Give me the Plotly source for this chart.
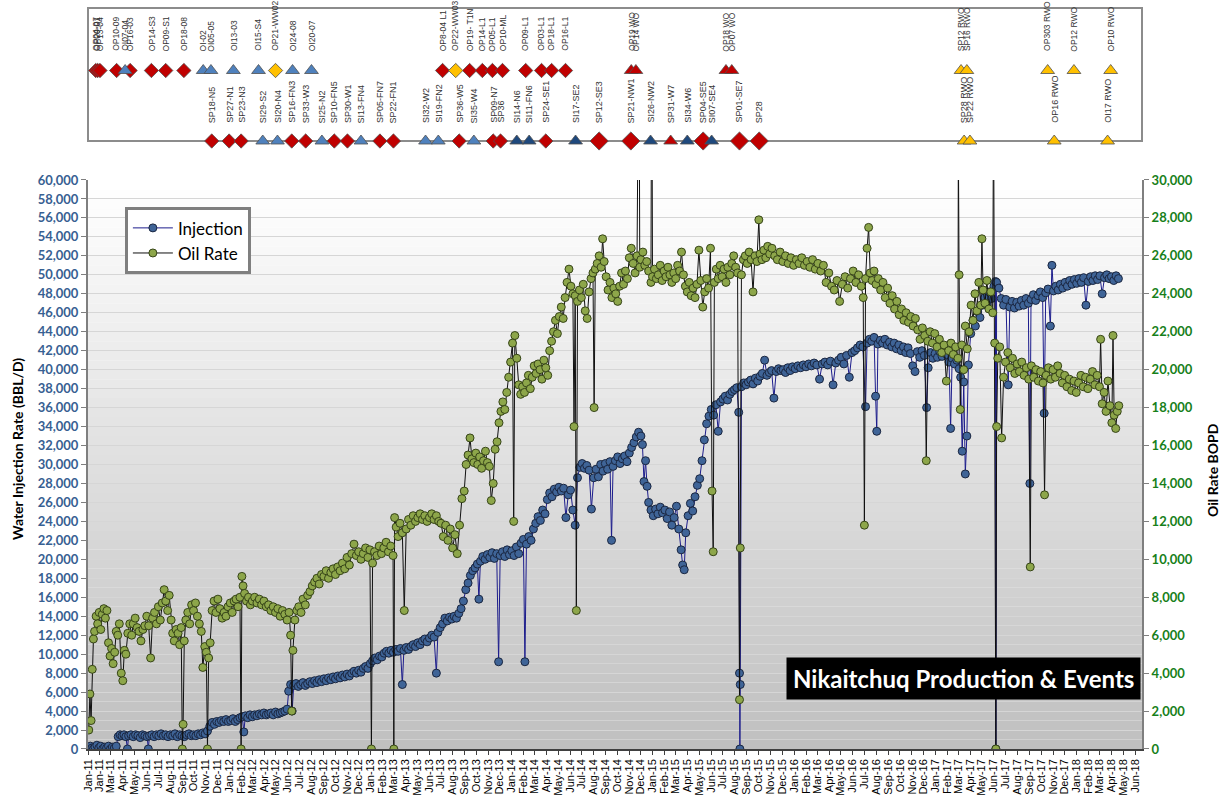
import pandas as pd
import plotly.graph_objects as go

# ---------------- data ----------------
INJ_DATES = [
"2011-01-03","2011-01-07","2011-01-11","2011-01-15","2011-01-19","2011-01-24","2011-01-29","2011-02-03","2011-02-08","2011-02-13",
"2011-02-18","2011-02-23","2011-02-28","2011-03-05","2011-03-10","2011-03-15","2011-03-20","2011-03-25","2011-03-30","2011-04-04",
"2011-04-09","2011-04-13","2011-04-16","2011-04-22","2011-04-28","2011-05-04","2011-05-10","2011-05-16","2011-05-22","2011-05-28",
"2011-06-03","2011-06-06","2011-06-09","2011-06-15","2011-06-21","2011-06-27","2011-07-03","2011-07-09","2011-07-15","2011-07-21",
"2011-07-27","2011-08-02","2011-08-08","2011-08-14","2011-08-20","2011-08-26","2011-09-01","2011-09-07","2011-09-13","2011-09-19",
"2011-09-25","2011-10-01","2011-10-07","2011-10-13","2011-10-19","2011-10-25","2011-10-31","2011-11-06","2011-11-12","2011-11-18",
"2011-11-24","2011-11-30","2011-12-06","2011-12-12","2011-12-18","2011-12-24","2011-12-30","2012-01-05","2012-01-11","2012-01-17",
"2012-01-23","2012-01-29","2012-02-04","2012-02-08","2012-02-12","2012-02-18","2012-02-24","2012-03-01","2012-03-07","2012-03-13",
"2012-03-19","2012-03-25","2012-03-31","2012-04-06","2012-04-12","2012-04-18","2012-04-24","2012-04-30","2012-05-06","2012-05-12",
"2012-05-18","2012-05-24","2012-05-30","2012-06-03","2012-06-08","2012-06-12","2012-06-16","2012-06-22","2012-06-28","2012-07-04",
"2012-07-10","2012-07-16","2012-07-22","2012-07-28","2012-08-03","2012-08-09","2012-08-15","2012-08-21","2012-08-27","2012-09-02",
"2012-09-08","2012-09-14","2012-09-20","2012-09-26","2012-10-02","2012-10-08","2012-10-14","2012-10-20","2012-10-26","2012-11-01",
"2012-11-07","2012-11-13","2012-11-19","2012-11-25","2012-12-01","2012-12-07","2012-12-13","2012-12-19","2012-12-25","2012-12-31",
"2013-01-06","2013-01-12","2013-01-18","2013-01-24","2013-01-30","2013-02-05","2013-02-11","2013-02-17","2013-02-23","2013-03-01",
"2013-03-07","2013-03-13","2013-03-19","2013-03-24","2013-03-28","2013-04-03","2013-04-09","2013-04-15","2013-04-21","2013-04-27",
"2013-05-03","2013-05-09","2013-05-15","2013-05-21","2013-05-27","2013-06-02","2013-06-08","2013-06-14","2013-06-20","2013-06-24",
"2013-06-30","2013-07-06","2013-07-12","2013-07-18","2013-07-24","2013-07-30","2013-08-05","2013-08-11","2013-08-17","2013-08-23",
"2013-08-29","2013-09-04","2013-09-10","2013-09-16","2013-09-22","2013-09-28","2013-10-04","2013-10-08","2013-10-12","2013-10-18",
"2013-10-24","2013-10-30","2013-11-05","2013-11-11","2013-11-17","2013-11-23","2013-11-28","2013-12-02","2013-12-08","2013-12-14",
"2013-12-20","2013-12-26","2014-01-01","2014-01-07","2014-01-13","2014-01-19","2014-01-25","2014-01-31","2014-02-04","2014-02-08",
"2014-02-14","2014-02-20","2014-02-26","2014-03-04","2014-03-10","2014-03-16","2014-03-22","2014-03-28","2014-04-03","2014-04-09",
"2014-04-15","2014-04-21","2014-04-27","2014-05-03","2014-05-09","2014-05-15","2014-05-21","2014-05-27","2014-06-02","2014-06-08",
"2014-06-14","2014-06-20","2014-06-26","2014-07-02","2014-07-08","2014-07-14","2014-07-20","2014-07-26","2014-08-01","2014-08-07",
"2014-08-13","2014-08-19","2014-08-25","2014-08-31","2014-09-06","2014-09-12","2014-09-16","2014-09-20","2014-09-26","2014-10-02",
"2014-10-08","2014-10-14","2014-10-20","2014-10-26","2014-11-01","2014-11-07","2014-11-13","2014-11-19","2014-11-25","2014-12-01",
"2014-12-05","2014-12-09","2014-12-13","2014-12-17","2014-12-21","2014-12-27","2015-01-02","2015-01-08","2015-01-14","2015-01-20",
"2015-01-26","2015-02-01","2015-02-07","2015-02-13","2015-02-19","2015-02-25","2015-03-03","2015-03-09","2015-03-15","2015-03-19",
"2015-03-23","2015-03-27","2015-04-02","2015-04-08","2015-04-14","2015-04-20","2015-04-26","2015-05-02","2015-05-08","2015-05-14",
"2015-05-20","2015-05-26","2015-06-01","2015-06-07","2015-06-13","2015-06-19","2015-06-25","2015-07-01","2015-07-07","2015-07-13",
"2015-07-19","2015-07-25","2015-07-31","2015-08-06","2015-08-11","2015-08-13","2015-08-14","2015-08-15","2015-08-18","2015-08-24",
"2015-08-30","2015-09-05","2015-09-11","2015-09-17","2015-09-23","2015-09-29","2015-10-05","2015-10-11","2015-10-17","2015-10-23",
"2015-10-29","2015-11-04","2015-11-10","2015-11-16","2015-11-22","2015-11-28","2015-12-04","2015-12-10","2015-12-16","2015-12-22",
"2015-12-28","2016-01-04","2016-01-11","2016-01-18","2016-01-25","2016-02-01","2016-02-08","2016-02-15","2016-02-22","2016-02-29",
"2016-03-07","2016-03-14","2016-03-21","2016-03-28","2016-04-04","2016-04-11","2016-04-18","2016-04-25","2016-05-02","2016-05-09",
"2016-05-16","2016-05-23","2016-05-30","2016-06-06","2016-06-13","2016-06-20","2016-06-27","2016-07-04","2016-07-08","2016-07-14",
"2016-07-20","2016-07-26","2016-07-30","2016-08-02","2016-08-05","2016-08-11","2016-08-17","2016-08-23","2016-08-29","2016-09-04",
"2016-09-10","2016-09-16","2016-09-22","2016-09-28","2016-10-04","2016-10-10","2016-10-16","2016-10-22","2016-10-28","2016-11-03",
"2016-11-09","2016-11-15","2016-11-21","2016-11-27","2016-12-03","2016-12-09","2016-12-13","2016-12-19","2016-12-25","2016-12-31",
"2017-01-06","2017-01-12","2017-01-18","2017-01-24","2017-01-30","2017-02-05","2017-02-09","2017-02-13","2017-02-19","2017-02-25",
"2017-03-03","2017-03-07","2017-03-11","2017-03-15","2017-03-19","2017-03-23","2017-03-27","2017-04-02","2017-04-08","2017-04-14",
"2017-04-20","2017-04-26","2017-05-02","2017-05-08","2017-05-14","2017-05-20","2017-05-26","2017-06-01","2017-06-05","2017-06-06",
"2017-06-08","2017-06-14","2017-06-20","2017-06-26","2017-07-02","2017-07-08","2017-07-12","2017-07-18","2017-07-24","2017-07-30",
"2017-08-05","2017-08-11","2017-08-17","2017-08-23","2017-08-29","2017-09-02","2017-09-05","2017-09-11","2017-09-17","2017-09-23",
"2017-09-29","2017-10-05","2017-10-09","2017-10-13","2017-10-19","2017-10-25","2017-10-29","2017-11-02","2017-11-08","2017-11-14",
"2017-11-20","2017-11-26","2017-12-02","2017-12-08","2017-12-14","2017-12-20","2017-12-26","2018-01-01","2018-01-07","2018-01-13",
"2018-01-19","2018-01-25","2018-01-31","2018-02-06","2018-02-12","2018-02-18","2018-02-24","2018-03-02","2018-03-08","2018-03-14",
"2018-03-20","2018-03-26","2018-04-01","2018-04-07","2018-04-13","2018-04-19"]
INJ_BBLD = [
0,300,100,0,200,400,100,300,0,200,
100,300,0,200,100,300,1300,1500,1400,1500,
1300,0,1400,1500,1300,1500,1400,1200,1500,1400,
1300,0,1400,1500,1300,1500,1400,1600,1400,1500,
1300,1500,1400,1600,1300,1500,1400,1300,1500,1600,
1400,1500,1400,1600,1500,1700,1600,1900,2400,2800,
2600,2900,2800,3000,2900,3100,2900,3000,3200,2900,
3100,3300,3400,1800,3500,3300,3600,3400,3600,3500,
3700,3600,3800,3600,3700,3800,3600,3900,3700,3800,
3900,4000,4200,6100,6800,4000,6700,6900,6600,6800,
7000,6700,6900,7100,6900,7200,7000,7300,7100,7400,
7200,7500,7300,7600,7400,7700,7500,7800,7600,7900,
7700,8000,8200,8000,8300,8100,8500,8700,8500,9000,
9300,9600,9400,9800,9700,10100,10300,10100,10400,10200,
10500,10300,10600,6800,10400,10700,10500,10800,11000,10800,
11200,11000,11400,11600,11300,11700,12000,11800,8000,12300,
12800,13200,13800,13500,13900,13700,14000,13800,14300,14800,
15600,16800,17500,18300,18800,19100,19500,15800,19800,20300,
20000,20500,20200,20700,20100,20600,9200,20400,20800,20300,
21000,20500,20900,20400,21300,20600,21700,22100,9200,21600,
22400,22000,23200,23800,24500,24100,25200,24800,26300,27000,
26600,27400,27100,27600,27200,27500,24400,26800,27300,25200,
23600,28600,29700,30100,29600,29900,29400,25300,28600,29500,
28700,30000,29300,30100,29500,30300,22000,29800,30400,30800,
30100,30600,30900,30300,31200,31800,32300,32900,33400,33000,
32100,28200,30400,27700,26000,25200,24600,25300,24800,25500,
24900,25200,24300,25000,23600,24400,25600,23200,21000,19400,
18900,22800,24600,25900,25100,26600,27800,28500,30400,32600,
34300,35100,35800,35200,36300,33500,36600,36900,37200,36800,
37400,37700,37900,38100,35500,8000,0,6800,38200,38600,
38400,38700,38900,38500,39100,38800,39300,39600,41000,39400,
39700,39900,37000,39800,40100,39900,40000,39700,40200,39900,
40300,40100,40400,40200,40500,40300,40600,40400,40700,40500,
39000,40600,40800,40500,40900,38400,40700,41000,41300,40600,
41500,39200,41800,42000,42300,42600,42400,36100,42800,43200,
43000,43400,37200,33500,42700,43100,42800,43200,42600,42900,
42400,42800,42200,42600,42000,42400,41800,42300,41700,40400,
39800,41900,41300,42000,41500,36000,40200,41800,41200,41700,
41300,41900,41400,42100,41600,40800,33800,41200,40600,41000,
40100,39200,31400,38700,29000,33000,40500,43800,45200,44600,
46100,45500,46800,47600,46900,48200,47500,48800,49300,0,
49200,48600,47500,46800,47400,38400,46600,47200,46500,47100,
46700,47300,46800,47500,47000,28000,47400,47900,47300,47800,
48200,47600,35400,48100,48500,44600,51000,48300,48800,48400,
49000,48600,49200,48800,49400,49000,49500,49100,49600,49200,
49700,46800,49300,49800,49400,49900,49500,49900,48000,49700,
50000,49600,49800,49400,49900,49600]

OIL_DATES = [
"2011-01-03","2011-01-06","2011-01-09","2011-01-12","2011-01-15","2011-01-18","2011-01-22","2011-01-26","2011-01-30","2011-02-03",
"2011-02-07","2011-02-11","2011-02-15","2011-02-19","2011-02-23","2011-02-27","2011-03-03","2011-03-07","2011-03-11","2011-03-15",
"2011-03-19","2011-03-23","2011-03-28","2011-04-01","2011-04-05","2011-04-09","2011-04-14","2011-04-19","2011-04-24","2011-04-28",
"2011-05-03","2011-05-08","2011-05-13","2011-05-18","2011-05-23","2011-05-28","2011-06-02","2011-06-07","2011-06-12","2011-06-17",
"2011-06-22","2011-06-27","2011-07-02","2011-07-07","2011-07-12","2011-07-17","2011-07-21","2011-07-26","2011-07-30","2011-08-04",
"2011-08-08","2011-08-12","2011-08-17","2011-08-22","2011-08-26","2011-08-30","2011-09-02","2011-09-04","2011-09-07","2011-09-11",
"2011-09-16","2011-09-21","2011-09-26","2011-10-01","2011-10-06","2011-10-11","2011-10-16","2011-10-21","2011-10-25","2011-10-30",
"2011-11-03","2011-11-06","2011-11-09","2011-11-13","2011-11-18","2011-11-23","2011-11-28","2011-12-03","2011-12-08","2011-12-14",
"2011-12-19","2011-12-24","2011-12-29","2012-01-04","2012-01-09","2012-01-14","2012-01-19","2012-01-24","2012-01-29","2012-02-01",
"2012-02-03","2012-02-06","2012-02-10","2012-02-15","2012-02-20","2012-02-25","2012-03-01","2012-03-07","2012-03-13","2012-03-19",
"2012-03-25","2012-03-31","2012-04-06","2012-04-12","2012-04-18","2012-04-24","2012-04-30","2012-05-06","2012-05-12","2012-05-18",
"2012-05-24","2012-05-30","2012-06-04","2012-06-08","2012-06-11","2012-06-14","2012-06-19","2012-06-24","2012-06-29","2012-07-05",
"2012-07-10","2012-07-16","2012-07-22","2012-07-28","2012-08-03","2012-08-09","2012-08-15","2012-08-21","2012-08-27","2012-09-02",
"2012-09-08","2012-09-14","2012-09-20","2012-09-26","2012-10-02","2012-10-08","2012-10-14","2012-10-20","2012-10-26","2012-11-01",
"2012-11-07","2012-11-13","2012-11-19","2012-11-25","2012-12-01","2012-12-07","2012-12-13","2012-12-19","2012-12-25","2012-12-30",
"2013-01-03","2013-01-06","2013-01-11","2013-01-17","2013-01-23","2013-01-29","2013-02-04","2013-02-10","2013-02-16","2013-02-22",
"2013-02-28","2013-03-02","2013-03-04","2013-03-08","2013-03-13","2013-03-18","2013-03-24","2013-03-29","2013-04-03","2013-04-09",
"2013-04-15","2013-04-21","2013-04-27","2013-05-03","2013-05-09","2013-05-15","2013-05-21","2013-05-27","2013-06-02","2013-06-08",
"2013-06-14","2013-06-20","2013-06-26","2013-07-02","2013-07-08","2013-07-14","2013-07-20","2013-07-26","2013-08-01","2013-08-07",
"2013-08-13","2013-08-19","2013-08-25","2013-08-31","2013-09-05","2013-09-10","2013-09-15","2013-09-20","2013-09-25","2013-09-30",
"2013-10-05","2013-10-10","2013-10-15","2013-10-20","2013-10-25","2013-10-30","2013-11-04","2013-11-09","2013-11-14","2013-11-19",
"2013-11-24","2013-11-29","2013-12-04","2013-12-09","2013-12-14","2013-12-19","2013-12-24","2013-12-29","2014-01-03","2014-01-06",
"2014-01-09","2014-01-14","2014-01-19","2014-01-24","2014-01-29","2014-02-03","2014-02-08","2014-02-13","2014-02-18","2014-02-23",
"2014-02-28","2014-03-05","2014-03-10","2014-03-15","2014-03-20","2014-03-25","2014-03-30","2014-04-04","2014-04-09","2014-04-14",
"2014-04-19","2014-04-24","2014-04-29","2014-05-04","2014-05-09","2014-05-14","2014-05-19","2014-05-24","2014-05-29","2014-06-03",
"2014-06-08","2014-06-11","2014-06-14","2014-06-17","2014-06-20","2014-06-25","2014-06-30","2014-07-05","2014-07-10","2014-07-15",
"2014-07-20","2014-07-25","2014-07-30","2014-08-02","2014-08-05","2014-08-10","2014-08-15","2014-08-20","2014-08-24","2014-08-28",
"2014-09-02","2014-09-07","2014-09-12","2014-09-17","2014-09-22","2014-09-27","2014-10-02","2014-10-07","2014-10-12","2014-10-17",
"2014-10-22","2014-10-27","2014-11-01","2014-11-06","2014-11-11","2014-11-16","2014-11-21","2014-11-26","2014-11-28","2014-12-01",
"2014-12-06","2014-12-11","2014-12-16","2014-12-21","2014-12-27","2014-12-29","2014-12-31","2015-01-05","2015-01-10","2015-01-15",
"2015-01-20","2015-01-25","2015-01-30","2015-02-04","2015-02-09","2015-02-14","2015-02-19","2015-02-24","2015-03-01","2015-03-06",
"2015-03-11","2015-03-16","2015-03-21","2015-03-26","2015-03-31","2015-04-05","2015-04-10","2015-04-15","2015-04-20","2015-04-25",
"2015-04-30","2015-05-05","2015-05-10","2015-05-15","2015-05-20","2015-05-25","2015-05-30","2015-06-03","2015-06-06","2015-06-09",
"2015-06-14","2015-06-19","2015-06-24","2015-06-29","2015-07-04","2015-07-09","2015-07-14","2015-07-19","2015-07-24","2015-07-29",
"2015-08-03","2015-08-08","2015-08-13","2015-08-15","2015-08-18","2015-08-23","2015-08-28","2015-09-02","2015-09-07","2015-09-12",
"2015-09-17","2015-09-22","2015-09-27","2015-10-02","2015-10-05","2015-10-10","2015-10-15","2015-10-20","2015-10-25","2015-10-30",
"2015-11-05","2015-11-12","2015-11-19","2015-11-26","2015-12-03","2015-12-10","2015-12-17","2015-12-24","2015-12-31","2016-01-07",
"2016-01-14","2016-01-21","2016-01-28","2016-02-04","2016-02-11","2016-02-18","2016-02-25","2016-03-03","2016-03-10","2016-03-17",
"2016-03-24","2016-03-31","2016-04-07","2016-04-14","2016-04-21","2016-04-28","2016-05-05","2016-05-12","2016-05-19","2016-05-26",
"2016-06-02","2016-06-09","2016-06-16","2016-06-23","2016-06-28","2016-07-01","2016-07-04","2016-07-08","2016-07-12","2016-07-16",
"2016-07-21","2016-07-26","2016-07-31","2016-08-06","2016-08-12","2016-08-18","2016-08-24","2016-08-30","2016-09-05","2016-09-11",
"2016-09-17","2016-09-23","2016-09-29","2016-10-05","2016-10-11","2016-10-17","2016-10-23","2016-10-29","2016-11-04","2016-11-10",
"2016-11-16","2016-11-22","2016-11-28","2016-12-04","2016-12-08","2016-12-12","2016-12-18","2016-12-24","2016-12-30","2017-01-05",
"2017-01-11","2017-01-17","2017-01-23","2017-01-29","2017-02-04","2017-02-10","2017-02-16","2017-02-22","2017-02-28","2017-03-01",
"2017-03-03","2017-03-06","2017-03-10","2017-03-15","2017-03-19","2017-03-24","2017-03-29","2017-04-03","2017-04-08","2017-04-13",
"2017-04-18","2017-04-23","2017-04-28","2017-05-01","2017-05-04","2017-05-09","2017-05-14","2017-05-19","2017-05-24","2017-05-29",
"2017-05-31","2017-06-03","2017-06-06","2017-06-08","2017-06-11","2017-06-16","2017-06-21","2017-06-26","2017-07-01","2017-07-07",
"2017-07-13","2017-07-19","2017-07-25","2017-07-31","2017-08-06","2017-08-12","2017-08-18","2017-08-24","2017-08-30","2017-09-03",
"2017-09-06","2017-09-12","2017-09-18","2017-09-24","2017-09-30","2017-10-06","2017-10-10","2017-10-14","2017-10-20","2017-10-26",
"2017-11-01","2017-11-07","2017-11-13","2017-11-19","2017-11-25","2017-12-01","2017-12-07","2017-12-13","2017-12-19","2017-12-25",
"2017-12-31","2018-01-06","2018-01-12","2018-01-18","2018-01-24","2018-01-30","2018-02-05","2018-02-11","2018-02-17","2018-02-23",
"2018-03-01","2018-03-04","2018-03-08","2018-03-13","2018-03-18","2018-03-23","2018-03-28","2018-04-02","2018-04-05","2018-04-08",
"2018-04-12","2018-04-16","2018-04-20"]
OIL_BOPD = [
1000,2900,1500,4200,5800,6200,7000,6600,7200,6300,
7100,7400,6900,7300,5600,4900,5300,4500,5100,6200,
6000,6600,4000,3600,5200,5000,6100,6600,6000,6600,
6900,6400,6200,5700,6300,6500,7000,6500,4800,6900,
7200,6600,7500,6800,7700,8400,7800,7300,8100,6800,
6100,5700,6300,6100,5500,6400,0,1300,5700,6800,
7200,6600,7600,7300,7700,7000,6600,6200,4300,5400,
5100,0,4800,5600,7300,7800,7200,7900,7400,6900,
7200,7000,7500,7700,7200,7800,7900,7500,8000,0,
9100,8600,8200,7800,8000,7600,7800,8000,7700,7900,
7600,7800,7500,7600,7300,7500,7200,7400,7000,7300,
7100,6800,7200,6000,2000,5200,6800,7300,7500,7200,
7900,7600,8100,8300,8600,8800,9000,8700,9200,9100,
9400,9000,9300,9500,9200,9600,9400,9800,9500,10100,
9700,10300,10800,10200,10400,10000,10300,10600,10100,10500,
0,9800,10400,10200,10700,10300,10600,10900,10400,10700,
10200,0,12200,11700,11200,11900,11400,7300,11600,12100,
11800,12300,12000,12200,12400,12100,12300,12000,12200,12400,
12100,12300,12000,11900,11200,11800,11000,11600,10600,11300,
10300,11800,13200,13600,15000,15500,16400,15300,15100,15600,
15000,15400,14800,15200,15700,15100,14900,13100,14000,15800,
16200,17200,17800,18300,17900,18800,19600,20400,21400,12000,
21800,20600,19200,18700,19100,18800,19300,19700,19000,19600,
20200,19800,20300,20000,19500,20500,20100,19700,21000,21500,
22000,22600,21900,22800,23300,22700,23800,24600,25300,24400,
24000,17000,23900,7300,23600,24200,23800,24500,23100,22700,
24100,24800,25100,18000,25300,25600,26000,25400,26900,25700,
24900,24200,24600,23800,24300,24000,23600,24400,25100,24500,
25200,24800,25900,26400,25600,25100,26000,40000,25400,25800,
26200,25500,25700,25200,24600,40000,24900,25300,24800,25000,
25500,24700,25200,24900,25400,25000,24600,25100,24800,25500,
25200,26200,25000,24400,24100,24600,23900,24300,23800,24500,
26300,24700,23300,24100,24800,24300,26400,13600,10400,24600,
25300,24800,25500,24900,25300,24600,25400,25000,25600,26000,
25400,25100,2600,10600,25000,25800,26000,25600,26200,25800,
24100,26000,25700,27900,26100,25800,26300,25900,26500,26100,
26400,26000,25800,26200,25700,26000,25600,25900,25500,25800,
25600,25900,25500,25700,25400,25800,25300,25600,25200,25500,
24600,25100,24400,24200,24700,23600,24500,24900,24300,24800,
25200,24600,25000,24400,23800,11800,24800,26400,27500,25100,
24700,25200,24500,24800,24200,24600,23800,24300,23500,23900,
23200,23600,22900,23200,22600,23000,22500,22800,22300,22700,
22100,21600,22200,21800,15200,21500,22000,21400,21900,21200,
21600,20900,21300,19400,21000,21400,20800,21200,20600,32000,
25000,17900,21300,20000,22300,21100,22000,23400,22600,24000,
23100,24600,23400,26900,24200,23500,24700,23200,24100,23000,
35000,21400,0,17000,20600,21200,16400,19600,20400,20900,
20100,20600,19800,20300,19900,20400,19700,20100,19500,9600,
20200,19600,20000,19400,19900,19300,13400,19700,20100,19500,
20000,19600,20200,19800,19300,19700,19100,19500,18900,19400,
18800,19300,19700,19100,19600,19000,19500,19900,19200,19700,
19100,21600,18200,18800,17800,19400,18100,17200,21800,17600,
16900,17800,18100]

# Event panel: date, label, row ("top"/"bottom"), event kind
EVENT_DATES = [
"2011-01-21","2011-01-26","2011-02-01","2011-03-16","2011-04-07","2011-04-20","2011-06-14","2011-07-21","2011-09-06","2011-10-26",
"2011-11-15","2012-01-12","2012-03-17","2012-04-30","2012-06-13","2012-08-01","2013-07-06","2013-08-09","2013-09-14","2013-10-17",
"2013-11-12","2013-12-08","2014-02-06","2014-03-19","2014-04-14","2014-05-20","2014-11-06","2014-11-18","2015-07-09","2015-07-24",
"2017-03-08","2017-03-23","2017-10-18","2017-12-25","2018-03-30",
"2011-11-17","2012-01-01","2012-02-01","2012-03-28","2012-05-05","2012-06-11","2012-07-17","2012-08-28","2012-09-29","2012-11-02",
"2012-12-07","2013-01-25","2013-03-01","2013-05-23","2013-06-25","2013-08-18","2013-09-25","2013-11-14","2013-12-03","2014-01-14",
"2014-02-15","2014-03-30","2014-06-15","2014-08-15","2014-11-05","2014-12-26","2015-02-16","2015-03-31","2015-05-11","2015-06-02",
"2015-08-13","2015-10-03","2017-03-16","2017-03-31","2017-11-04","2018-03-22"]
EVENT_LABELS = [
"OP04-07","OP20-01","OP13-04","OP10-09","OI07-04","OP16-03","OP14-S3","OP09-S1","OP18-08","OI-02",
"OI05-05","OI13-03","OI15-S4","OP21-WW02","OI24-08","OI20-07","OP8-04 L1","OP22-WW03","OP19- T1N","OP14-L1",
"OP05-L1","OP10-ML","OP09-L1","OP03-L1","OP18-L1","OP16-L1","OP19 WO","OP14 WO","OP18 WO","OP07 WO",
"SP12 RWO","SP16 RWO","OP303 RWO","OP12 RWO","OP10 RWO",
"SP18-N5","SP27-N1","SP23-N3","SI29-S2","SI20-N4","SP16-FN3","SP33-W3","SI25-N2","SP10-FN5","SP30-W1",
"SI13-FN4","SP05-FN7","SP22-FN1","SI32-W2","SI19-FN2","SP36-W5","SI35-W4","SP09-N7","SP36","SI14-N6",
"SI11-FN6","SP24-SE1","SI17-SE2","SP12-SE3","SP21-NW1","SI26-NW2","SP31-W7","SI34-W6","SP04-SE5","SI07-SE4",
"SP01-SE7","SP28","SP28 RWO","SP22 RWO","OP16 RWO","OI17 RWO"]
EVENT_ROW = ["top"] * 35 + ["bottom"] * 36
EVENT_KIND = [
"OP","OP","OP","OP","OI","OP","OP","OP","OP","OI",
"OI","OI","OI","WW","OI","OI","OP","WW","OP","OP",
"OP","OP","OP","OP","OP","OP","WO","WO","WO","WO",
"RWO","RWO","RWO","RWO","RWO",
"SP","SP","SP","SI","SI","SP","SP","SI","SP","SP",
"SI","SP","SP","SI","SI","SP","SI","SP","SP","SI2",
"SI2","SP","SI2","SP2","SP2","SI2","WO","SI2","SP2","SI2",
"SP2","SP2","RWO","RWO","RWO","RWO"]

TICK_DATES = ["2011-01-01", "2011-01-31"] + [d.strftime("%Y-%m-%d") for d in pd.date_range("2011-03-01", "2018-06-01", freq="MS")]
TICK_LABELS = [pd.Timestamp(d).strftime("%b-%y") for d in TICK_DATES]

# ---------------- styling ----------------
KIND_STYLE = {
    "OP": dict(symbol="diamond", color="#C00000", size=11),
    "SP": dict(symbol="diamond", color="#C00000", size=11),
    "SP2": dict(symbol="diamond", color="#C00000", size=14),
    "OI": dict(symbol="triangle-up", color="#4F81BD", size=12),
    "SI": dict(symbol="triangle-up", color="#4F81BD", size=12),
    "SI2": dict(symbol="triangle-up", color="#1F497D", size=12),
    "WW": dict(symbol="diamond", color="#FFC000", size=11),
    "WO": dict(symbol="triangle-up", color="#C00000", size=12),
    "RWO": dict(symbol="triangle-up", color="#FFC000", size=12),
}
ROW_MARKER_Y = {"top": 0.53, "bottom": 0.0}
ROW_LABEL_Y = {"top": 0.66, "bottom": 0.12}
ROW_LABEL_SIZE = {"top": 8.5, "bottom": 9}

FONT = "Lato"

fig = go.Figure()

# gradient background bands in the main plot
N = 60
for i in range(N):
    f = i / (N - 1)
    g = int(round(192 + (255 - 192) * f))
    fig.add_shape(type="rect", xref="paper", yref="y", x0=0, x1=1,
                  y0=60000 * i / N, y1=60000 * (i + 1) / N,
                  fillcolor=f"rgb({g},{g},{g})", line=dict(width=0), layer="below")

# event panel frame
fig.add_shape(type="rect", xref="paper", yref="paper", x0=0, x1=1, y0=0.8205, y1=1.0,
              line=dict(color="#8C8C8C", width=2), fillcolor="white", layer="below")

fig.add_trace(go.Scatter(
    x=INJ_DATES, y=INJ_BBLD, name="Injection", mode="lines+markers",
    line=dict(color="#1C1C8C", width=1),
    marker=dict(size=8, color="#3F6497", line=dict(color="#1A2640", width=1)),
    yaxis="y"))
fig.add_trace(go.Scatter(
    x=OIL_DATES, y=OIL_BOPD, name="Oil Rate", mode="lines+markers",
    line=dict(color="#101010", width=1),
    marker=dict(size=8, color="#8DA64A", line=dict(color="#364418", width=1)),
    yaxis="y2"))

# event markers
for kind, st in KIND_STYLE.items():
    xs = [d for d, k in zip(EVENT_DATES, EVENT_KIND) if k == kind]
    ys = [ROW_MARKER_Y[r] for r, k in zip(EVENT_ROW, EVENT_KIND) if k == kind]
    if not xs:
        continue
    fig.add_trace(go.Scatter(
        x=xs, y=ys, mode="markers", showlegend=False, cliponaxis=False,
        marker=dict(symbol=st["symbol"], size=st["size"], color=st["color"],
                    line=dict(color="#505050", width=0.8)),
        xaxis="x", yaxis="y3"))

annotations = []
for d, lab, r in zip(EVENT_DATES, EVENT_LABELS, EVENT_ROW):
    annotations.append(dict(x=d, y=ROW_LABEL_Y[r], xref="x", yref="y3", text=lab,
                            textangle=-90, showarrow=False, xanchor="center", yanchor="bottom",
                            font=dict(size=ROW_LABEL_SIZE[r], family="Liberation Sans", color="#333333")))

annotations.append(dict(x=0.999, y=0.0945, xref="paper", yref="paper",
                        text="<b>Nikaitchuq Production & Events</b>", showarrow=False,
                        xanchor="right", yanchor="middle", bgcolor="black", borderpad=6,
                        font=dict(size=24, family=FONT, color="white")))
annotations.append(dict(x=-0.0664, y=0.405, xref="paper", yref="paper",
                        text="<b>Water Injection Rate (BBL/D)</b>", showarrow=False, textangle=-90,
                        xanchor="center", yanchor="middle", font=dict(size=14, family=FONT, color="black")))
annotations.append(dict(x=1.0664, y=0.3765, xref="paper", yref="paper",
                        text="<b>Oil Rate BOPD</b>", showarrow=False, textangle=-90,
                        xanchor="center", yanchor="middle", font=dict(size=14, family=FONT, color="black")))

fig.update_layout(
    width=1225, height=798,
    margin=dict(l=88, r=83, t=8, b=49),
    paper_bgcolor="white", plot_bgcolor="white",
    showlegend=True,
    legend=dict(x=0.035, y=0.731, xanchor="left", yanchor="top",
                bgcolor="white", bordercolor="#7F7F7F", borderwidth=3,
                font=dict(size=17, family=FONT, color="black"), itemwidth=40),
    xaxis=dict(type="date", domain=[0, 1], anchor="y",
               range=["2011-01-01", "2018-06-19"],
               tickmode="array", tickvals=TICK_DATES, ticktext=TICK_LABELS,
               tickangle=-90, ticks="outside", ticklen=4, tickcolor="#404040",
               showline=True, linecolor="#404040", linewidth=1.5, showgrid=False,
               zeroline=False, automargin=False,
               tickfont=dict(size=11, family="Liberation Sans", color="black")),
    yaxis=dict(domain=[0, 0.7679], range=[0, 60000], dtick=2000, tickformat=",d",
               ticks="outside", ticklen=5, tickcolor="#7F7F7F",
               showline=True, linecolor="#7F7F7F", linewidth=2,
               showgrid=True, gridcolor="#D6D6D6", gridwidth=1, zeroline=False,
               automargin=False,
               tickfont=dict(size=13, family=FONT, color="#376092", weight="bold")),
    yaxis2=dict(overlaying="y", side="right", anchor="x", range=[0, 30000], dtick=2000,
                tickformat=",d", ticks="outside", ticklen=5, tickcolor="#7F7F7F",
                showline=True, linecolor="#7F7F7F", linewidth=2, showgrid=False,
                zeroline=False, automargin=False,
                tickfont=dict(size=13, family=FONT, color="#17801A", weight="bold")),
    yaxis3=dict(domain=[0.8205, 1.0], range=[0, 1], anchor="x", visible=False,
                fixedrange=True),
    annotations=annotations,
)

# remove the browser's default page margin so the 1225x798 figure fills the window exactly
fig.write_html("out.html", config={"displayModeBar": False},
               post_script="document.body.style.margin='0px';")
